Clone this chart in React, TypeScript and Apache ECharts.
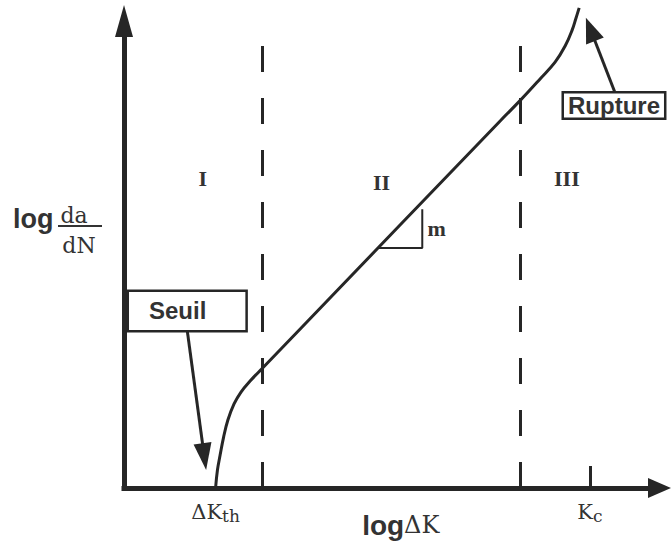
import React, { useEffect, useRef } from "react";
import * as echarts from "echarts";

// ---- data (schematic units: log ΔK and log da/dN, 0–100) ----
const curveLogDK = [17.1, 17.45, 17.95, 18.6, 19.4, 20.55, 21.85, 23.55, 25.8, 32.9, 70.2, 74.0, 77.7, 80.5, 82.4, 83.7, 84.4, 85.0];
const curveLogDaDN = [0, 3.85, 7.05, 10.9, 14.55, 18.0, 20.55, 22.9, 25.6, 34.05, 78.55, 83.0, 87.6, 91.2, 94.7, 98.1, 100.6, 102.8];

const regionBounds = [25.8, 74.0];
const regionTop = 94.9;
const regionNames = ["I", "II", "III"];
const regionLabelX = [14.7, 48.1, 82.7];
const regionLabelY = [66.2, 65.5, 66.2];

const slopeX = [47.4, 55.7, 55.7];
const slopeY = [51.4, 51.4, 59.7];
const slopeName = "m";
const slopeLabelPos = [58.4, 55.5];

const thresholdK = 17.1;
const criticalK = 87.0;
const tickLabels = ["ΔK", "th", "K", "c"];

const seuilName = "Seuil";
const seuilBox = [11.8, 37.9];
const seuilArrow = [[11.8, 33.8], [15.0, 6.7]];
const ruptureName = "Rupture";
const ruptureBox = [91.5, 81.9];
const ruptureArrow = [[91.7, 84.6], [87.1, 98.2]];

// overlay grid reaches above the axis end (same scale, taller extent)
const OVERLAY_Y_MAX = 103.4;

const INK = "#262626";
const TXT = "#333333";

export default function App() {
  const ref = useRef<HTMLDivElement>(null);
  useEffect(() => {
    if (!ref.current) return;
    const chart = echarts.init(ref.current, null, { renderer: "svg" });
    const curve = curveLogDK.map((x, i) => [x, curveLogDaDN[i]]);
    const slope = slopeX.map((x, i) => [x, slopeY[i]]);
    const serif = '"DejaVu Serif", serif';
    const sans = '"Liberation Sans", Arial, sans-serif';
    const boxLabel = {
      show: true,
      position: "inside",
      formatter: "{b}",
      fontFamily: sans,
      fontWeight: "bold",
      fontSize: 24,
      color: TXT,
      backgroundColor: "#fff",
      borderColor: INK,
      borderWidth: 2.5,
    };
    const option: any = {
      animation: false,
      backgroundColor: "#fff",
      grid: [
        { left: 124, right: 12.5, top: 21, bottom: 53, containLabel: false, outerBoundsMode: "none" },
        { left: 124, right: 12.5, top: 5, bottom: 53, containLabel: false, outerBoundsMode: "none" },
      ],
      xAxis: [
        {
          type: "value",
          gridIndex: 0,
          min: 0,
          max: 100,
          axisLine: {
            show: true,
            onZero: false,
            symbol: ["none", "triangle"],
            symbolSize: [20, 23],
            lineStyle: { color: INK, width: 5, cap: "square" },
          },
          axisTick: {
            show: true,
            inside: true,
            length: 22,
            customValues: [criticalK],
            lineStyle: { color: INK, width: 3 },
          },
          axisLabel: {
            show: true,
            customValues: [thresholdK, criticalK],
            margin: 12,
            formatter: (v: number) =>
              v === thresholdK
                ? `{k|${tickLabels[0]}}{s|${tickLabels[1]}}`
                : `{k|${tickLabels[2]}}{s|${tickLabels[3]}}`,
            rich: {
              k: { fontFamily: serif, fontSize: 21, color: TXT, lineHeight: 24 },
              s: { fontFamily: serif, fontSize: 17, color: TXT, lineHeight: 20, verticalAlign: "bottom" },
            },
          },
          splitLine: { show: false },
          name: "{l|log}{k|ΔK}",
          nameLocation: "middle",
          nameGap: 23,
          nameMoveOverlap: false,
          nameTextStyle: {
            padding: [0, 0, 0, 18],
            rich: {
              l: { fontFamily: sans, fontWeight: "bold", fontSize: 28, color: TXT },
              k: { fontFamily: serif, fontSize: 24, color: TXT },
            },
          },
        },
        { type: "value", gridIndex: 1, min: 0, max: 100, show: false },
      ],
      yAxis: [
        {
          type: "value",
          gridIndex: 0,
          min: 0,
          max: 100,
          axisLine: {
            show: true,
            onZero: false,
            symbol: ["none", "triangle"],
            symbolSize: [18, 32],
            lineStyle: { color: INK, width: 5, cap: "square" },
          },
          axisTick: { show: false },
          axisLabel: { show: false },
          splitLine: { show: false },
        },
        { type: "value", gridIndex: 1, min: 0, max: OVERLAY_Y_MAX, show: false },
      ],
      graphic: [
        {
          type: "text",
          x: 13,
          y: 219,
          style: { text: "log", font: 'bold 27px "Liberation Sans", Arial, sans-serif', fill: TXT, align: "left", verticalAlign: "middle" },
        },
        {
          type: "text",
          x: 74,
          y: 215,
          style: { text: "da", font: '22px "DejaVu Serif", serif', fill: TXT, align: "center", verticalAlign: "middle" },
        },
        {
          type: "line",
          shape: { x1: 58, y1: 226, x2: 102, y2: 226 },
          style: { stroke: TXT, lineWidth: 2 },
        },
        {
          type: "text",
          x: 79,
          y: 245,
          style: { text: "dN", font: '22px "DejaVu Serif", serif', fill: TXT, align: "center", verticalAlign: "middle" },
        },
      ],
      series: [
        {
          name: "da/dN",
          type: "line",
          xAxisIndex: 0,
          yAxisIndex: 0,
          data: curve,
          smooth: 0.4,
          symbol: "none",
          clip: false,
          lineStyle: { color: INK, width: 3 },
          z: 3,
        },
        {
          name: "slope",
          type: "line",
          xAxisIndex: 0,
          yAxisIndex: 0,
          data: slope,
          symbol: "none",
          lineStyle: { color: INK, width: 2 },
          z: 3,
        },
        {
          name: "regions",
          type: "line",
          xAxisIndex: 0,
          yAxisIndex: 0,
          data: [],
          markLine: {
            silent: true,
            symbol: ["none", "none"],
            label: { show: false },
            lineStyle: { color: INK, width: 3, type: [26, 26] },
            data: regionBounds.map((b) => [{ coord: [b, 0] }, { coord: [b, regionTop] }]),
          },
          markPoint: {
            silent: true,
            symbol: "circle",
            symbolSize: 1,
            itemStyle: { color: "rgba(0,0,0,0)" },
            label: {
              show: true,
              position: "inside",
              formatter: "{b}",
              fontFamily: '"Liberation Serif", "Times New Roman", serif',
              fontWeight: "bold",
              fontSize: 22,
              color: TXT,
            },
            data: [
              ...regionNames.map((n, i) => ({ name: n, coord: [regionLabelX[i], regionLabelY[i]] })),
              { name: slopeName, coord: slopeLabelPos },
            ],
          },
        },
        {
          name: "annotations",
          type: "line",
          xAxisIndex: 1,
          yAxisIndex: 1,
          data: [],
          markLine: {
            silent: true,
            label: { show: false },
            lineStyle: { color: INK, width: 3, type: "solid" },
            itemStyle: { color: INK },
            data: [
              [
                { coord: seuilArrow[0], symbol: "none" },
                { coord: seuilArrow[1], symbol: "triangle", symbolSize: [18, 27] },
              ],
              [
                { coord: ruptureArrow[0], symbol: "none" },
                { coord: ruptureArrow[1], symbol: "triangle", symbolSize: [19, 25] },
              ],
            ],
          },
          markPoint: {
            silent: true,
            symbol: "circle",
            symbolSize: 1,
            itemStyle: { color: "rgba(0,0,0,0)" },
            label: boxLabel,
            data: [
              {
                name: seuilName,
                coord: seuilBox,
                label: { ...boxLabel, lineHeight: 24, padding: [7, 39, 7, 20] },
              },
              {
                name: ruptureName,
                coord: ruptureBox,
                label: { ...boxLabel, lineHeight: 22, padding: [1, 4, 1, 4] },
              },
            ],
          },
          z: 4,
        },
      ],
    };
    chart.setOption(option);
    return () => chart.dispose();
  }, []);
  return <div ref={ref} style={{ position: "fixed", left: 0, top: 0, width: 672, height: 541 }} />;
}
